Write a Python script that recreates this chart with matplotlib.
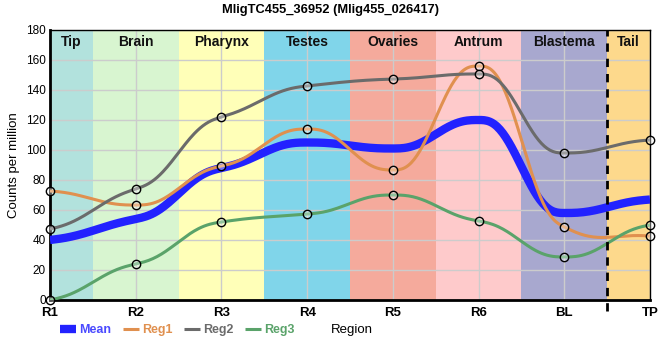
import numpy as np
import matplotlib
matplotlib.use("Agg")
import matplotlib.pyplot as plt

plt.rcParams["font.family"] = ["Liberation Sans", "DejaVu Sans"]

TITLE = "MligTC455_36952 (Mlig455_026417)"
POSITIONS = ["R1", "R2", "R3", "R4", "R5", "R6", "BL", "TP"]

MEAN = [40, 54, 88, 105, 101, 120, 58, 67]
REG1 = [72.7, 63.3, 89.3, 114, 86.7, 156, 48.7, 42.7]
REG2 = [47.3, 74, 122, 142.7, 147.3, 150.7, 98, 106.7]
REG3 = [0, 24, 52, 57.3, 70, 52.7, 28.7, 50]

BANDS = ["Tip", "Brain", "Pharynx", "Testes", "Ovaries", "Antrum", "Blastema", "Tail"]
BAND_COLORS = ["#b2e2dd", "#d8f5d0", "#ffffb8", "#80d5ea",
               "#f5aa9c", "#fecacb", "#a8a8cf", "#fdd98c"]

SERIES = [
    ("Mean", MEAN, "#2222ff", 6, False),
    ("Reg1", REG1, "#e0904f", 2.2, True),
    ("Reg2", REG2, "#6b6b6b", 2.2, True),
    ("Reg3", REG3, "#5aa36a", 2.2, True),
]
TEXT_COLORS = ["#4a4aff", "#e0904f", "#6b6b6b", "#5aa36a"]


def smooth_curve(values, c=0.5, npts=60):
    # quintic hermite through the points, flat at local extremes
    v = np.asarray(values, dtype=float)
    n = len(v)
    d = np.diff(v)
    m = np.zeros(n)
    for i in range(1, n - 1):
        if d[i - 1] * d[i] > 0:
            m[i] = c * (d[i - 1] + d[i]) / 2
    m[0] = c * d[0]
    m[-1] = c * d[-1]
    xs, ys = [], []
    for i in range(n - 1):
        s = np.linspace(0, 1, npts, endpoint=(i == n - 2))
        h01 = 10 * s**3 - 15 * s**4 + 6 * s**5
        h00 = 1 - h01
        h10 = s - 6 * s**3 + 8 * s**4 - 3 * s**5
        h11 = -4 * s**3 + 7 * s**4 - 3 * s**5
        xs.append(i + s)
        ys.append(h00 * v[i] + h10 * m[i] + h01 * v[i + 1] + h11 * m[i + 1])
    return np.concatenate(xs), np.concatenate(ys)


fig = plt.figure(figsize=(6.6, 3.6), dpi=100)
ax = fig.add_axes([50 / 660, 60 / 360, 600 / 660, 270 / 360])

n = len(POSITIONS)
edges = [0] + [i + 0.5 for i in range(n - 1)] + [n - 1]
for i, (name, col) in enumerate(zip(BANDS, BAND_COLORS)):
    ax.axvspan(edges[i], edges[i + 1], color=col, lw=0, zorder=0)
    ax.text((edges[i] + edges[i + 1]) / 2, 172, name, ha="center", va="center",
            fontsize=10, fontweight="bold", color="#111111", zorder=5)

ax.grid(True, color="#cccccc", lw=1, zorder=1)
ax.set_axisbelow(True)

for name, vals, col, lw, marks in SERIES:
    xs, ys = smooth_curve(vals)
    ax.plot(xs, ys, color=col, lw=lw, zorder=3, label=name, solid_capstyle="butt")
    if marks:
        ax.plot(range(n), vals, ls="none", marker="o", ms=6, mfc=(1, 1, 1, 0.35),
                mec="black", mew=1, zorder=4, clip_on=False)

ax.axvline(n - 1.5, ymin=-0.04, ymax=1, color="black", lw=2, ls=(0, (3, 2.5)),
           zorder=4, clip_on=False)

ax.set_xlim(0, n - 1)
ax.set_ylim(0, 180)
ax.set_yticks(range(0, 181, 20))
ax.set_xticks(range(n))
ax.set_xticklabels(POSITIONS, fontweight="bold", fontsize=9.5)
ax.tick_params(axis="y", labelsize=8.5, length=0, pad=3)
ax.tick_params(axis="x", length=0, pad=5)
for s in ["left", "bottom"]:
    ax.spines[s].set_linewidth(2)
for s in ["top", "right"]:
    ax.spines[s].set_linewidth(1)
ax.set_ylabel("Counts per million", fontsize=9.5)

fig.suptitle(TITLE, fontsize=9.3, fontweight="bold", y=0.99)

leg = ax.legend(loc="center left", bbox_to_anchor=(49 / 660, 30 / 360),
                bbox_transform=fig.transFigure, ncol=4, frameon=False,
                handlelength=1.25, handletextpad=0.3, columnspacing=0.9,
                prop={"size": 9, "weight": "bold"})
for txt, col in zip(leg.get_texts(), TEXT_COLORS):
    txt.set_color(col)
fig.text(331 / 660, 30 / 360, "Region", fontsize=9.5, va="center", ha="left")

fig.savefig("out.png", dpi=100)
